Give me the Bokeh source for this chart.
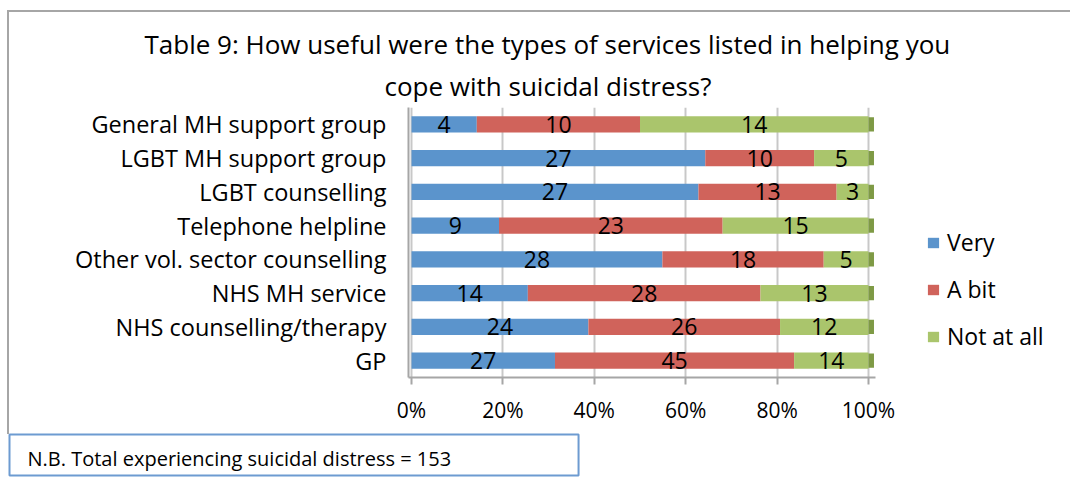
from bokeh.plotting import figure
from bokeh.models import (ColumnDataSource, Range1d, LabelSet, Title, InlineStyleSheet,
                          Legend, LegendItem, NumeralTickFormatter, FixedTicker)
from bokeh.core.properties import value
from bokeh.embed import file_html
from bokeh.resources import INLINE

categories = ["General MH support group", "LGBT MH support group", "LGBT counselling",
              "Telephone helpline", "Other vol. sector counselling", "NHS MH service",
              "NHS counselling/therapy", "GP"]
very = [4, 27, 27, 9, 28, 14, 24, 27]
a_bit = [10, 10, 13, 23, 18, 28, 26, 45]
not_at_all = [14, 5, 3, 15, 5, 13, 12, 14]
series_names = ["Very", "A bit", "Not at all"]
colors = ["#5B94CC", "#D0635B", "#AAC56C"]
title_lines = ["Table 9: How useful were the types of services listed in helping you",
               "cope with suicidal distress?"]
note_text = "N.B. Total  experiencing suicidal distress  = 153"
x_ticks = [0, 0.2, 0.4, 0.6, 0.8, 1.0]

FONT = "Open Sans"
BORDER = "#A6A6A6"

n = len(categories)
ypos = [n - 0.5 - i for i in range(n)]  # first category at top

# shares (100% stacked)
totals = [a + b + c for a, b, c in zip(very, a_bit, not_at_all)]
series_vals = [very, a_bit, not_at_all]
lefts, rights = [], []
cum = [0.0] * n
for vals in series_vals:
    l = list(cum)
    r = [c + v / t for c, v, t in zip(cum, vals, totals)]
    lefts.append(l)
    rights.append(r)
    cum = r

# frame geometry (pixels): frame runs to the right edge so the legend fits inside it
FL, FR, FT, FB = 408, 1070, 107, 379
X0PX, X1PX = 411, 868
scale = (X1PX - X0PX)
x_start = -(X0PX - FL) / scale
x_end = 1 + (FR - X1PX) / scale

p = figure(width=1070, height=481,
           y_range=Range1d(0, n),
           x_range=Range1d(x_start, x_end),
           output_backend="svg", toolbar_location=None,
           min_border_left=FL, min_border_right=0,
           min_border_top=FT, min_border_bottom=481 - FB)
p.outline_line_color = None
p.background_fill_color = "white"
p.border_fill_color = "white"
# outer chart border (left and top edges)
p.stylesheets = [InlineStyleSheet(css=":host::after { content: ''; position: absolute; "
                                      "left: 7px; top: 10px; width: 2000px; height: 422px; "
                                      "border-left: 2px solid #A6A6A6; border-top: 2px solid #A6A6A6; "
                                      "pointer-events: none; }")]

renderers = []
for i, name in enumerate(series_names):
    src = ColumnDataSource(dict(y=ypos, left=lefts[i], right=rights[i]))
    r = p.hbar(y="y", left="left", right="right", height=0.48, source=src,
               fill_color=colors[i], line_color=None)
    renderers.append(r)

# 3D side face at the end of each bar
cap_src = ColumnDataSource(dict(y=ypos, left=[1.0] * n, right=[1.012] * n))
p.hbar(y="y", left="left", right="right", height=0.42, source=cap_src,
       fill_color="#7E9A45", line_color=None)

# value labels
lab_y, lab_x, lab_txt = [], [], []
for i, vals in enumerate(series_vals):
    for yv, l, r, v in zip(ypos, lefts[i], rights[i], vals):
        lab_y.append(yv)
        lab_x.append((l + r) / 2)
        lab_txt.append(str(v))
lab_src = ColumnDataSource(dict(y=lab_y, x=lab_x, txt=lab_txt))
p.add_layout(LabelSet(x="x", y="y", text="txt", source=lab_src,
                      text_align="center", text_baseline="middle",
                      text_font=value(FONT), text_font_size=value("23px"),
                      text_color="black"))

# axes
p.xgrid.ticker = FixedTicker(ticks=x_ticks)
p.xgrid.grid_line_color = "#C8C8C8"
p.xgrid.grid_line_width = 2
p.ygrid.grid_line_color = None

p.xaxis.ticker = FixedTicker(ticks=x_ticks)
p.xaxis.bounds = (x_start, 1.015)
p.xaxis.formatter = NumeralTickFormatter(format="0%")
p.xaxis.major_label_text_font = FONT
p.xaxis.major_label_text_font_size = "21px"
p.xaxis.major_label_text_color = "black"
p.xaxis.major_label_standoff = 11
p.xaxis.axis_line_color = BORDER
p.xaxis.axis_line_width = 2
p.xaxis.major_tick_out = 7
p.xaxis.major_tick_in = 0
p.xaxis.major_tick_line_color = BORDER
p.xaxis.major_tick_line_width = 2
p.xaxis.minor_tick_line_color = None

p.yaxis.ticker = FixedTicker(ticks=ypos)
p.yaxis.major_label_overrides = {yv: c for yv, c in zip(ypos, categories)}
p.yaxis.major_label_text_font = FONT
p.yaxis.major_label_text_font_size = "23.5px"
p.yaxis.major_label_text_color = "black"
p.yaxis.major_label_standoff = 22
p.yaxis.major_tick_out = 0
p.yaxis.major_tick_in = 0
p.yaxis.minor_tick_line_color = None
p.yaxis.axis_line_color = BORDER
p.yaxis.axis_line_width = 2

# two-line title, each line centred near x=547
p.add_layout(Title(text=title_lines[1], align="left", offset=384 - FL, standoff=8,
                   text_font=FONT, text_font_size="26px", text_font_style="normal",
                   text_color="black"), "above")
p.add_layout(Title(text=title_lines[0], align="left", offset=144 - FL, standoff=0,
                   text_font=FONT, text_font_size="26px", text_font_style="normal",
                   text_color="black"), "above")

# legend inside the (extended) frame, right of the bars
legend = Legend(items=[LegendItem(label=s, renderers=[r]) for s, r in zip(series_names, renderers)],
                location=(926 - FL, 25), orientation="vertical",
                glyph_width=14, glyph_height=13, label_standoff=7,
                label_height=26, spacing=15, padding=0, margin=0,
                label_text_font=FONT, label_text_font_size="23px", label_text_color="black",
                border_line_color=None, background_fill_alpha=0)
p.add_layout(legend, "center")

# note box below the chart
p.add_layout(Title(text=note_text, align="left", offset=9 - FL, standoff=12,
                   text_font=FONT, text_font_size="20px", text_font_style="normal",
                   text_color="black", background_fill_color="white",
                   border_line_color="#6D9BD1", border_line_width=2,
                   padding=dict(left=18, right=117, top=10, bottom=4)), "below")

open("out.html", "w").write(file_html(p, INLINE))
